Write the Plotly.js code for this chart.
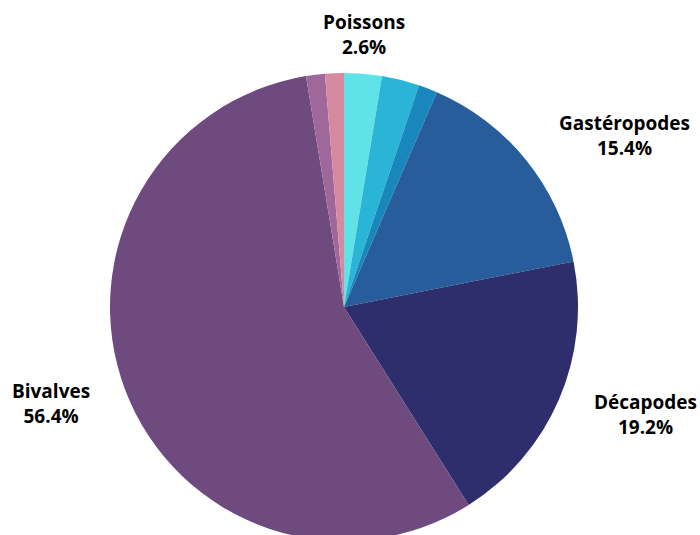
<!DOCTYPE html>
<html>
<head>
<meta charset="utf-8">
<script src="https://cdn.plot.ly/plotly-3.0.1.min.js"></script>
<style>html,body{margin:0;padding:0;overflow:hidden;background:#fff;}</style>
</head>
<body>
<div id="chart" style="width:700px;height:550px;"></div>
<script>
const categories = ["Poissons", "Céphalopodes", "Échinodermes", "Gastéropodes", "Décapodes", "Bivalves", "Annélides", "Autres"];
const values = [2.6, 2.6, 1.3, 15.4, 19.2, 56.4, 1.3, 1.3];
const showLabel = [true, false, false, true, true, true, false, false];
const colors = ["#5fe3e6", "#2ab5d6", "#1a87bc", "#275d9a", "#2d2e6b", "#6e4a7f", "#a0679a", "#d58aa0"];

const W = 700, H = 550;
const cx = 344, cy = 307, r = 234;

const trace = {
  type: "pie",
  labels: categories,
  values: values,
  sort: false,
  direction: "clockwise",
  rotation: 0,
  marker: {colors: colors, line: {width: 0}},
  textinfo: "none",
  hoverinfo: "label+percent",
  domain: {x: [(cx - r) / W, (cx + r) / W], y: [(H - cy - r) / H, (H - cy + r) / H]},
  automargin: false
};

// Outside labels placed from each slice's mid-angle (derived from the values)
const total = values.reduce((a, b) => a + b, 0);
const annotations = [];
let cum = 0;
values.forEach((v, i) => {
  const mid = (cum + v / 2) / total * 2 * Math.PI;
  cum += v;
  if (!showLabel[i]) return;
  const s = Math.sin(mid), c = Math.cos(mid);
  const R = r * 1.06;
  const px = cx + R * s, py = cy - R * c;
  let xanchor = "center", xshift = 0;
  if (s > 0.5) { xanchor = "left"; xshift = 20; }
  else if (s < -0.5) { xanchor = "right"; xshift = -20; }
  annotations.push({
    xref: "paper", yref: "paper",
    x: px / W, y: 1 - py / H,
    xanchor: xanchor, yanchor: "middle",
    xshift: xshift, yshift: c * 25,
    showarrow: false,
    align: "center",
    text: "<b>" + categories[i] + "</b><br><b>" + v.toFixed(1) + "%</b>",
    font: {family: "Open Sans", size: 19, color: "#000", weight: 800}
  });
});

const layout = {
  width: W, height: H,
  margin: {l: 0, r: 0, t: 0, b: 0},
  showlegend: false,
  paper_bgcolor: "#fff",
  font: {family: "Open Sans"},
  annotations: annotations
};

Plotly.newPlot("chart", [trace], layout, {displayModeBar: false, staticPlot: true});
</script>
</body>
</html>
